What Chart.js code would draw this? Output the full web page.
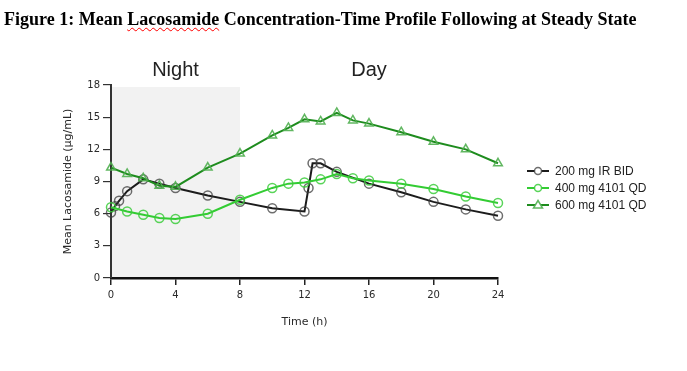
<!DOCTYPE html>
<html>
<head>
<meta charset="utf-8">
<script src="https://cdn.jsdelivr.net/npm/chart.js@4.4.1/dist/chart.umd.min.js"></script>
<style>
  html, body { margin: 0; padding: 0; background: #fff; }
  #wrap { position: relative; width: 687px; height: 371px; }
  #title { position: absolute; left: 4px; top: 10px; line-height: 18px; font-family: "Liberation Serif", "Times New Roman", serif; font-weight: bold; font-size: 18px; color: #000; white-space: nowrap; }
  #title .sp { text-decoration: underline wavy red; text-decoration-thickness: 1px; text-underline-offset: 2px; }
  canvas { position: absolute; left: 0; top: 0; }
</style>
</head>
<body>
<div id="wrap">
  <canvas id="c" width="687" height="371"></canvas>
  <div id="title">Figure 1: Mean <span class="sp">Lacosamide</span> Concentration-Time Profile Following at Steady State</div>
</div>
<script>
// ---- Data ----
const seriesNames = ["200 mg IR BID", "400 mg 4101 QD", "600 mg 4101 QD"];

const timeIR = [0, 0.25, 0.5, 1, 2, 3, 4, 6, 8, 10, 12, 12.25, 12.5, 13, 14, 16, 18, 20, 22, 24];
const concIR = [6.1, 6.7, 7.2, 8.1, 9.2, 8.8, 8.4, 7.7, 7.1, 6.5, 6.2, 8.4, 10.7, 10.7, 9.9, 8.8, 8.0, 7.1, 6.4, 5.8];

const time400 = [0, 1, 2, 3, 4, 6, 8, 10, 11, 12, 13, 14, 15, 16, 18, 20, 22, 24];
const conc400 = [6.6, 6.2, 5.9, 5.6, 5.5, 6.0, 7.3, 8.4, 8.8, 8.9, 9.2, 9.7, 9.3, 9.1, 8.8, 8.3, 7.6, 7.0];

const time600 = [0, 1, 2, 3, 4, 6, 8, 10, 11, 12, 13, 14, 15, 16, 18, 20, 22, 24];
const conc600 = [10.3, 9.7, 9.3, 8.6, 8.5, 10.3, 11.6, 13.3, 14.0, 14.8, 14.6, 15.4, 14.7, 14.4, 13.6, 12.7, 12.0, 10.7];

const xTicks = [0, 4, 8, 12, 16, 20, 24];
const yTicks = [0, 3, 6, 9, 12, 15, 18];
const nightRange = [0, 8];
const periodLabels = ["Night", "Day"];
const periodLabelX = [4, 16];
const xTitle = "Time (h)";
const yTitle = "Mean Lacosamide (\u00b5g/mL)";

function pts(t, v) { return t.map((x, i) => ({ x: x, y: v[i] })); }

const lineColors = ["#1c1c1c", "#33cc33", "#1e8c1e"];
const pointColors = ["rgba(60,60,60,0.75)", "rgba(60,205,60,0.85)", "rgba(80,175,80,0.9)"];
const pointStyles = ["circle", "circle", "triangle"];

const bgPlugin = {
  id: 'bg',
  beforeDraw(chart) {
    const { ctx, scales: { x, y } } = chart;
    ctx.save();
    ctx.fillStyle = '#f2f2f2';
    const x0 = x.getPixelForValue(nightRange[0]), x1 = x.getPixelForValue(nightRange[1]);
    const y0 = y.getPixelForValue(18) + 2, y1 = y.getPixelForValue(0);
    ctx.fillRect(x0 + 1, y0, x1 - x0 - 1, y1 - y0);
    ctx.restore();
  },
  afterDraw(chart) {
    const { ctx, scales: { x, y } } = chart;
    ctx.save();
    // Period labels
    ctx.fillStyle = '#222';
    ctx.font = '20px "Liberation Sans", Arial, sans-serif';
    ctx.textAlign = 'center';
    ctx.textBaseline = 'alphabetic';
    periodLabels.forEach((lab, i) => {
      ctx.fillText(lab, x.getPixelForValue(periodLabelX[i]), 76);
    });
    // Axis titles
    ctx.font = '11px "DejaVu Sans", sans-serif';
    ctx.fillStyle = '#2a2a2a';
    ctx.textBaseline = 'middle';
    ctx.fillText(xTitle, (x.left + x.right) / 2, 322);
    ctx.save();
    ctx.translate(68, (y.top + y.bottom) / 2);
    ctx.rotate(-Math.PI / 2);
    ctx.fillText(yTitle, 0, 0);
    ctx.restore();
    // Legend
    const lx = 527, lw = 22, tx = 555, rows = [171, 188, 205];
    chart.data.datasets.forEach((ds, i) => {
      const yy = rows[i];
      ctx.strokeStyle = ds.borderColor;
      ctx.lineWidth = 2;
      ctx.beginPath(); ctx.moveTo(lx, yy); ctx.lineTo(lx + lw, yy); ctx.stroke();
      ctx.strokeStyle = ds.pointBorderColor;
      ctx.fillStyle = '#fff';
      ctx.lineWidth = 1.5;
      const cx = lx + lw / 2;
      if (ds.pointStyle === 'triangle') {
        ctx.beginPath();
        ctx.moveTo(cx, yy - 4.5); ctx.lineTo(cx + 4.5, yy + 3); ctx.lineTo(cx - 4.5, yy + 3); ctx.closePath();
        ctx.fill(); ctx.stroke();
      } else {
        ctx.beginPath(); ctx.arc(cx, yy, 3.5, 0, Math.PI * 2); ctx.fill(); ctx.stroke();
      }
      ctx.fillStyle = '#222';
      ctx.font = '12px "Liberation Sans", Arial, sans-serif';
      ctx.textAlign = 'left';
      ctx.textBaseline = 'middle';
      ctx.fillText(ds.label, tx, yy + 1);
    });
    ctx.restore();
  }
};

const datasets = [[timeIR, concIR], [time400, conc400], [time600, conc600]].map((d, i) => ({
  label: seriesNames[i],
  data: pts(d[0], d[1]),
  borderColor: lineColors[i],
  borderWidth: 2,
  pointStyle: pointStyles[i],
  pointRadius: pointStyles[i] === 'triangle' ? 5 : 4.5,
  pointBorderColor: pointColors[i],
  pointBackgroundColor: 'rgba(0,0,0,0)',
  pointBorderWidth: 1.5,
  tension: 0,
  clip: false,
  order: 3 - i
}));

new Chart(document.getElementById('c'), {
  type: 'line',
  data: { datasets: datasets },
  options: {
    responsive: false,
    animation: false,
    devicePixelRatio: 1,
    layout: { padding: { left: 0, top: 85, right: 189, bottom: 0 } },
    plugins: { legend: { display: false }, tooltip: { enabled: false } },
    scales: {
      x: {
        type: 'linear', min: 0, max: 24,
        afterFit(s) { s.height = 93; },
        afterBuildTicks(s) { s.ticks = xTicks.map(v => ({ value: v })); },
        grid: { drawOnChartArea: false, drawTicks: true, tickLength: 7, color: '#222', lineWidth: 1.5 },
        border: { display: true, color: '#111', width: 2.5 },
        ticks: { color: '#2a2a2a', font: { size: 10, family: '"DejaVu Sans", sans-serif' }, padding: 4, maxRotation: 0 }
      },
      y: {
        type: 'linear', min: 0, max: 18,
        afterFit(s) { s.width = 111; },
        afterBuildTicks(s) { s.ticks = yTicks.map(v => ({ value: v })); },
        grid: { drawOnChartArea: false, drawTicks: true, tickLength: 8, color: '#333', lineWidth: 1.2 },
        border: { display: true, color: '#333', width: 2 },
        ticks: { color: '#2a2a2a', font: { size: 10, family: '"DejaVu Sans", sans-serif' }, padding: 3 }
      }
    }
  },
  plugins: [bgPlugin]
});
</script>
</body>
</html>
